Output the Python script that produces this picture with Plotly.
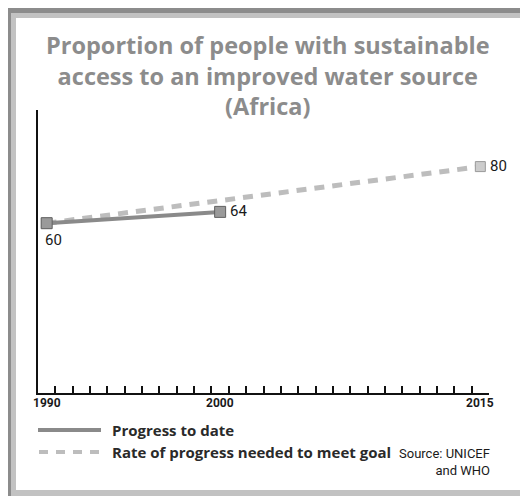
import plotly.graph_objects as go

# ---- data ----
progress_years = [1990, 2000]
progress_values = [60, 64]
goal_years = [1990, 2015]
goal_values = [60, 80]
x_tick_labels = [1990, 2000, 2015]
minor_tick_years = list(range(1990, 2016))

title_lines = ["Proportion of people with sustainable",
               "access to an improved water source",
               "(Africa)"]
legend_labels = ["Progress to date", "Rate of progress needed to meet goal"]
source_text = "Source: UNICEF<br>and WHO"

W, H = 520, 496
L, R, T, B = 38, 31, 110, 103
PW, PH = W - L - R, H - T - B

def px(x):
    return (x - L) / PW

def py(y):
    return (H - B - y) / PH

COND = "Roboto, Liberation Sans Narrow, sans-serif"
HUM = "Open Sans, Lato, sans-serif"

fig = go.Figure()

fig.add_trace(go.Scatter(
    x=goal_years, y=goal_values, mode="lines+markers",
    line=dict(color="#bdbdbd", width=5, dash="10px,8px"),
    marker=dict(symbol="square", size=10, color="#cccccc", line=dict(color="#9a9a9a", width=1)),
    showlegend=False, hoverinfo="skip"))

fig.add_trace(go.Scatter(
    x=progress_years, y=progress_values, mode="lines+markers",
    line=dict(color="#8a8a8a", width=4),
    marker=dict(symbol="square", size=11, color="#9a9a9a", line=dict(color="#606060", width=1)),
    showlegend=False, hoverinfo="skip"))

annotations = []
# value labels
for i, (xx, yy) in enumerate(zip(progress_years, progress_values)):
    if i == 0:
        annotations.append(dict(x=xx, y=yy, xref="x", yref="y", text=str(yy), showarrow=False,
                                xanchor="left", yanchor="top", xshift=-4, yshift=-6,
                                font=dict(family=COND, size=15, color="#1a1a1a")))
    else:
        annotations.append(dict(x=xx, y=yy, xref="x", yref="y", text=str(yy), showarrow=False,
                                xanchor="left", yanchor="middle", xshift=8, yshift=1,
                                font=dict(family=COND, size=15, color="#1a1a1a")))
annotations.append(dict(x=goal_years[-1], y=goal_values[-1], xref="x", yref="y", text=str(goal_values[-1]),
                        showarrow=False, xanchor="left", yanchor="middle", xshift=8, yshift=1,
                        font=dict(family=COND, size=15, color="#1a1a1a")))
# x tick labels
for yr in x_tick_labels:
    annotations.append(dict(x=yr, y=0, xref="x", yref="paper", text=str(yr), showarrow=False,
                            xanchor="center", yanchor="top", yshift=-1,
                            font=dict(family=COND, size=12, color="#1a1a1a", weight="bold")))
# title
annotations.append(dict(x=px(268), y=py(75), xref="paper", yref="paper", text="<br>".join(title_lines),
                        showarrow=False, xanchor="center", yanchor="middle", align="center",
                        font=dict(family=HUM, size=23.5, color="#8c8c8c", weight="bold")))
# legend text
annotations.append(dict(x=px(110), y=py(430), xref="paper", yref="paper", text=legend_labels[0],
                        showarrow=False, xanchor="left", yanchor="middle",
                        font=dict(family=HUM, size=15, color="#2a2a2a", weight="bold")))
annotations.append(dict(x=px(110), y=py(452), xref="paper", yref="paper", text=legend_labels[1],
                        showarrow=False, xanchor="left", yanchor="middle",
                        font=dict(family=HUM, size=15, color="#2a2a2a", weight="bold")))
annotations.append(dict(x=px(492), y=py(444), xref="paper", yref="paper", text=source_text,
                        showarrow=False, xanchor="right", yanchor="top", align="right",
                        font=dict(family=COND, size=13, color="#1a1a1a")))

shapes = []
# frame
shapes.append(dict(type="rect", xref="paper", yref="paper", x0=px(8), x1=px(520), y0=py(8), y1=py(13),
                   fillcolor="#8c8c8c", line=dict(width=0), layer="above"))
shapes.append(dict(type="rect", xref="paper", yref="paper", x0=px(11), x1=px(520), y0=py(13), y1=py(18),
                   fillcolor="#c2c2c2", line=dict(width=0), layer="above"))
shapes.append(dict(type="rect", xref="paper", yref="paper", x0=px(8), x1=px(11), y0=py(8), y1=py(496),
                   fillcolor="#8c8c8c", line=dict(width=0), layer="above"))
shapes.append(dict(type="rect", xref="paper", yref="paper", x0=px(11), x1=px(16), y0=py(13), y1=py(496),
                   fillcolor="#c2c2c2", line=dict(width=0), layer="above"))
shapes.append(dict(type="rect", xref="paper", yref="paper", x0=px(11), x1=px(520), y0=py(490), y1=py(496),
                   fillcolor="#c2c2c2", line=dict(width=0), layer="above"))
# legend samples
shapes.append(dict(type="line", xref="paper", yref="paper", x0=px(38), x1=px(101), y0=py(430), y1=py(430),
                   line=dict(color="#8a8a8a", width=4)))
shapes.append(dict(type="line", xref="paper", yref="paper", x0=px(39), x1=px(101), y0=py(452), y1=py(452),
                   line=dict(color="#bdbdbd", width=4, dash="9px,8px")))

fig.update_layout(
    width=W, height=H, margin=dict(l=L, r=R, t=T, b=B),
    paper_bgcolor="white", plot_bgcolor="white",
    annotations=annotations, shapes=shapes,
    xaxis=dict(range=[1989.5, 2015.5], showgrid=False, zeroline=False,
               showline=True, linecolor="#111", linewidth=2,
               tickvals=[y + 0.5 for y in minor_tick_years], ticktext=["" for _ in minor_tick_years],
               ticks="inside", ticklen=7, tickwidth=1.5, tickcolor="#111"),
    yaxis=dict(range=[0, 100], showgrid=False, zeroline=False,
               showline=True, linecolor="#111", linewidth=2,
               showticklabels=False, ticks=""),
)

fig.write_html("out.html")
